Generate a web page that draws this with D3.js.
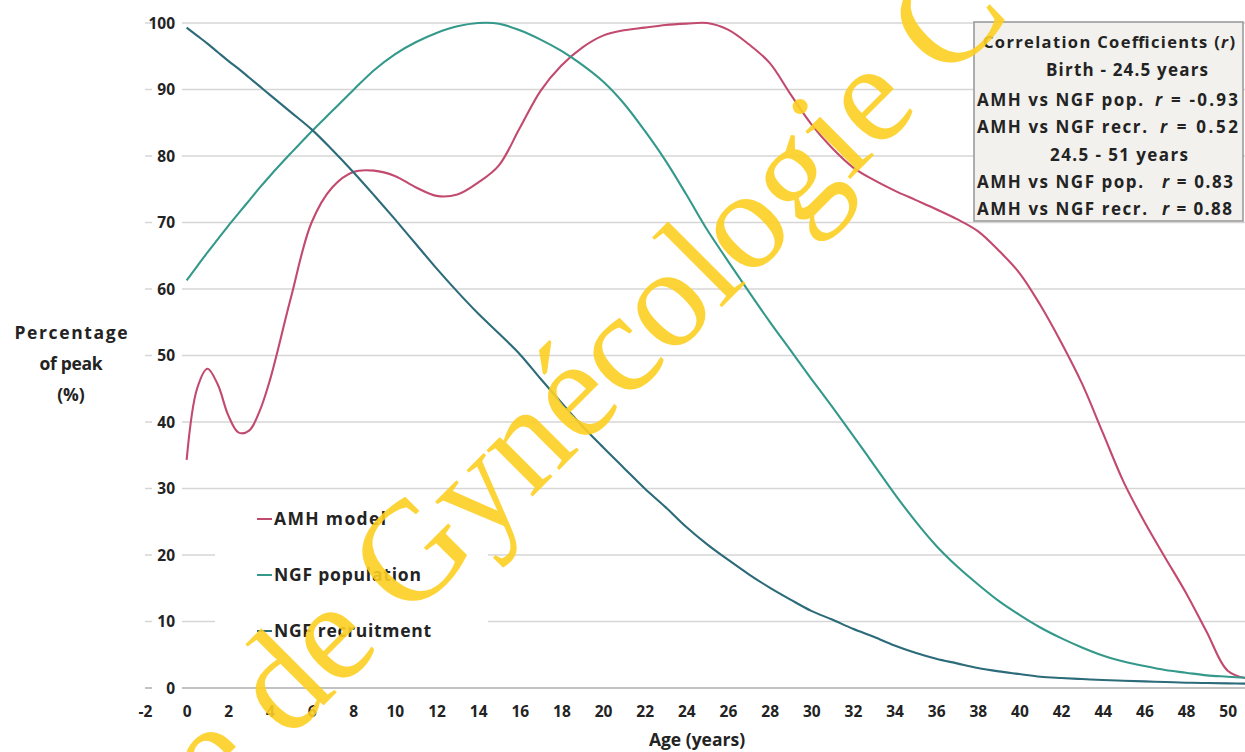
<!DOCTYPE html>
<html>
<head>
<meta charset="utf-8">
<script src="https://cdn.jsdelivr.net/npm/d3@7"></script>
<style>
  html, body { margin: 0; padding: 0; background: #ffffff; }
  svg { display: block; }
</style>
</head>
<body>
<svg id="chart" width="1245" height="752"></svg>
<script>
// Age in years (x values shared by every series)
const ages = [0, 0.5, 1, 1.5, 2, 2.5, 3, 3.5, 4, 5, 6, 7, 8, 9, 10, 11, 12, 13, 14, 15,
  16, 17, 18, 19, 20, 21, 22, 23, 24, 25, 26, 27, 28, 29, 30, 31, 32, 33, 34, 35,
  36, 37, 38, 39, 40, 41, 42, 43, 44, 45, 46, 47, 48, 49, 50, 51];

// Percentage of peak for each series
const amhModel = [34.3, 45.0, 48.0, 45.6, 41.0, 38.4, 38.7, 41.6, 46.3, 58.6, 70.0, 75.3, 77.6, 77.8, 77.0, 75.3, 74.0, 74.2, 76.0, 78.6,
  84.2, 89.8, 93.6, 96.3, 98.1, 98.9, 99.3, 99.7, 99.9, 100, 99.0, 96.8, 94.0, 89.3, 84.8, 81.2, 78.3, 76.4, 74.8, 73.4,
  72.0, 70.5, 68.7, 65.8, 62.4, 57.6, 52.0, 45.8, 38.4, 31.0, 25.0, 19.6, 14.3, 8.4, 2.6, 1.4];

const ngfPopulation = [61.3, 63.4, 65.5, 67.5, 69.5, 71.4, 73.3, 75.2, 77.0, 80.4, 83.7, 86.8, 89.9, 92.9, 95.3, 97.1, 98.5, 99.5, 100, 99.9,
  98.9, 97.5, 95.8, 93.7, 91.2, 87.9, 83.8, 79.3, 74.2, 68.9, 64.2, 59.6, 55.1, 50.8, 46.5, 42.3, 38.0, 33.6, 29.2, 25.1,
  21.4, 18.3, 15.6, 13.1, 11.0, 9.1, 7.5, 6.1, 4.9, 4.0, 3.3, 2.7, 2.3, 1.9, 1.7, 1.5];

const ngfRecruitment = [99.3, 98.1, 96.9, 95.6, 94.3, 93.1, 91.8, 90.5, 89.2, 86.6, 84.0, 80.9, 77.6, 74.1, 70.5, 66.8, 63.1, 59.6, 56.3, 53.3,
  50.2, 46.5, 42.9, 39.4, 36.2, 33.1, 30.0, 27.2, 24.2, 21.6, 19.3, 17.1, 15.1, 13.3, 11.6, 10.3, 8.9, 7.7, 6.4, 5.3,
  4.4, 3.7, 3.0, 2.5, 2.1, 1.7, 1.5, 1.35, 1.2, 1.1, 1.0, 0.9, 0.8, 0.75, 0.7, 0.65];

const seriesNames = ["AMH model", "NGF population", "NGF recruitment"];

// Axis tick labels
const xTickValues = [-2, 0, 2, 4, 6, 8, 10, 12, 14, 16, 18, 20, 22, 24, 26, 28, 30, 32, 34, 36, 38, 40, 42, 44, 46, 48, 50];
const yTickValues = [0, 10, 20, 30, 40, 50, 60, 70, 80, 90, 100];

// Correlation coefficient panel
const correlationPeriods = ["Birth - 24.5 years", "24.5 - 51 years"];
const correlationPairs = ["AMH vs NGF pop.", "AMH vs NGF recr."];
const correlationValues = [["-0.93", "0.52"], ["0.83", "0.88"]];

const watermarkText = "e de Gynécologie C";

// ---------------------------------------------------------------
const svg = d3.select("#chart");
const W = 1245, H = 752;
const FONT = "'Open Sans', 'DejaVu Sans', sans-serif";
const INK = "#232323";
const colors = ["#c24a6e", "#34998a", "#2c6b79"];

const x = d3.scaleLinear().domain([-2, 51]).range([145, 1248.5]);
const y = d3.scaleLinear().domain([0, 100]).range([688, 23]);

svg.append("rect").attr("width", W).attr("height", H).attr("fill", "#ffffff");

// Horizontal gridlines
svg.append("g").selectAll("line")
  .data(yTickValues.filter(d => d > 0))
  .join("line")
  .attr("x1", x(-2)).attr("x2", W)
  .attr("y1", d => y(d)).attr("y2", d => y(d))
  .attr("stroke", "#d6d6d6").attr("stroke-width", 1.4);

// Zero line
svg.append("line")
  .attr("x1", x(-2)).attr("x2", W)
  .attr("y1", y(0)).attr("y2", y(0))
  .attr("stroke", "#c2c2c2").attr("stroke-width", 1.8);

// Y axis labels sitting on white chips over the gridlines
const yAxis = svg.append("g")
  .attr("transform", `translate(175,0)`)
  .call(d3.axisLeft(y).tickValues(yTickValues).tickSize(0).tickPadding(0).tickFormat(d => String(d)));
yAxis.select(".domain").remove();
yAxis.selectAll(".tick").insert("rect", "text")
  .attr("x", -23).attr("y", -8).attr("width", 30).attr("height", 16)
  .attr("fill", "#ffffff");
yAxis.selectAll("text")
  .attr("font-family", FONT).attr("font-size", 15.5).attr("font-weight", 700)
  .attr("fill", INK).attr("dy", "0.35em");

// X axis labels
const xAxis = svg.append("g")
  .attr("transform", `translate(0,${y(0)})`)
  .call(d3.axisBottom(x).tickValues(xTickValues).tickSize(0).tickPadding(0).tickFormat(d => String(d)));
xAxis.select(".domain").remove();
xAxis.selectAll("text")
  .attr("font-family", FONT).attr("font-size", 15.5).attr("font-weight", 700)
  .attr("fill", INK).attr("y", 24).attr("dy", "0.35em");

// Axis titles
svg.append("text")
  .attr("x", 697).attr("y", 740).attr("dy", "0.35em")
  .attr("text-anchor", "middle")
  .attr("font-family", FONT).attr("font-size", 17.5).attr("font-weight", 700).attr("fill", INK)
  .text("Age (years)");

const yTitle = [["Percentage", 333, 113], ["of peak", 364, 63], ["(%)", 395, null]];
svg.append("g").selectAll("text")
  .data(yTitle)
  .join("text")
  .attr("x", 71).attr("y", d => d[1]).attr("dy", "0.35em")
  .attr("text-anchor", "middle")
  .attr("font-family", FONT).attr("font-size", 17.5).attr("font-weight", 700).attr("fill", INK)
  .each(function (d) {
    if (d[2]) d3.select(this).attr("textLength", d[2]).attr("lengthAdjust", "spacing");
  })
  .text(d => d[0]);

// Curves
const seriesValues = [amhModel, ngfPopulation, ngfRecruitment];
const line = d3.line()
  .x(d => x(d[0]))
  .y(d => y(d[1]))
  .curve(d3.curveCatmullRom.alpha(0.5));

svg.append("g").selectAll("path")
  .data(seriesValues.map((vals, i) => ({ i, pts: ages.map((a, k) => [a, vals[k]]) })))
  .join("path")
  .attr("d", d => line(d.pts))
  .attr("fill", "none")
  .attr("stroke", d => colors[d.i])
  .attr("stroke-width", 2.1)
  .attr("stroke-linejoin", "round");

// Legend
const legend = svg.append("g");
legend.append("rect")
  .attr("x", 215).attr("y", 497).attr("width", 273).attr("height", 158)
  .attr("fill", "#ffffff");
const legendWidths = [112, 147, 157];
const legendRows = legend.selectAll("g")
  .data(seriesNames)
  .join("g")
  .attr("transform", (d, i) => `translate(257,${519 + i * 56})`);
legendRows.append("line")
  .attr("x1", 0).attr("x2", 15).attr("y1", 0).attr("y2", 0)
  .attr("stroke", (d, i) => colors[i]).attr("stroke-width", 2);
legendRows.append("text")
  .attr("x", 17).attr("dy", "0.35em")
  .attr("font-family", FONT).attr("font-size", 17.5).attr("font-weight", 700).attr("fill", INK)
  .attr("textLength", (d, i) => legendWidths[i]).attr("lengthAdjust", "spacing")
  .text(d => d);

// Correlation panel
const panel = svg.append("g");
panel.append("rect")
  .attr("x", 974).attr("y", 22).attr("width", 269).attr("height", 199)
  .attr("fill", "#f2f1ed").attr("stroke", "#9c9c9c").attr("stroke-width", 1.6);

const pFont = (sel, size) => sel.attr("font-family", FONT).attr("font-size", size)
  .attr("font-weight", 700).attr("fill", INK).attr("dy", "0.35em");

const title = panel.append("text").attr("x", 983).attr("y", 42)
  .attr("textLength", 252).attr("lengthAdjust", "spacing");
pFont(title, 16.5);
title.append("tspan").text("Correlation Coefficients (");
title.append("tspan").attr("font-style", "italic").text("r");
title.append("tspan").text(")");

const rowY = [[70, 100, 127], [155, 182, 209]];
const periodWidth = [162, 138];
const valueStart = [[1155, 1160], [1162, 1162]];
const valueWidth = [[83, 78], [71, 70]];
const pairWidth = [166, 170];

correlationPeriods.forEach((period, p) => {
  const head = panel.append("text")
    .attr("x", p === 0 ? 1127 : 1119).attr("y", rowY[p][0])
    .attr("text-anchor", "middle")
    .attr("textLength", periodWidth[p]).attr("lengthAdjust", "spacing")
    .text(period);
  pFont(head, 17);
  correlationPairs.forEach((pair, k) => {
    const lab = panel.append("text")
      .attr("x", 977).attr("y", rowY[p][k + 1])
      .attr("textLength", pairWidth[k]).attr("lengthAdjust", "spacing")
      .text(pair);
    pFont(lab, 17);
    const val = panel.append("text")
      .attr("x", valueStart[p][k]).attr("y", rowY[p][k + 1])
      .attr("textLength", valueWidth[p][k]).attr("lengthAdjust", "spacing");
    pFont(val, 17);
    val.append("tspan").attr("font-style", "italic").text("r");
    val.append("tspan").text(" = " + correlationValues[p][k]);
  });
});

// Diagonal watermark across the plot
svg.append("text")
  .attr("transform", "translate(218,811) rotate(-45)")
  .attr("font-family", "'Liberation Serif', 'Times New Roman', serif")
  .attr("font-size", 142)
  .attr("fill", "#fdcf22")
  .attr("fill-opacity", 0.9)
  .text(watermarkText);
</script>
</body>
</html>
